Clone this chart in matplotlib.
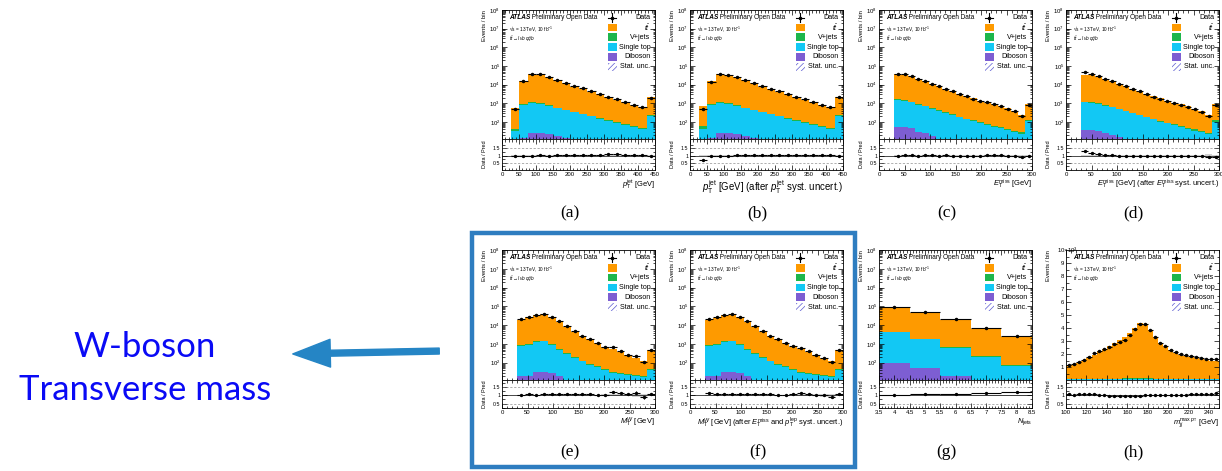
import matplotlib
matplotlib.use("Agg")
import matplotlib.pyplot as plt
import numpy as np
from matplotlib.patches import Rectangle, FancyArrowPatch
from matplotlib.ticker import (FixedLocator, LogFormatterSciNotation, NullFormatter,
                               MultipleLocator)

plt.rcParams["font.family"] = ["Liberation Sans", "DejaVu Sans"]
plt.rcParams["mathtext.fontset"] = "custom"
plt.rcParams["mathtext.rm"] = "Liberation Sans"
plt.rcParams["mathtext.it"] = "Liberation Sans:italic"
plt.rcParams["mathtext.bf"] = "Liberation Sans:bold"
plt.rcParams["hatch.linewidth"] = 0.5

C_TT, C_VJ, C_ST, C_DB = "#FE9A00", "#1DB64C", "#12C8F4", "#7D5ED2"

# ---- (a) / (b): jet pT ----
a_edges = np.arange(25, 451, 25)
a_ttbar = [500, 1.4e4, 3.5e4, 3.3e4, 2.4e4, 1.7e4, 1.1e4, 7.4e3, 5.6e3, 4.0e3, 2.8e3, 1.95e3, 1.4e3, 1.05e3, 750, 560, 1.9e3]
a_vjets = [10, 60, 70, 65, 55, 42, 33, 27, 21, 16, 13, 10, 8, 6, 5, 4, 20]
a_stop = [28, 800, 1000, 900, 700, 520, 400, 320, 250, 190, 145, 110, 85, 65, 50, 40, 200]
a_dib = [3, 14, 24, 24, 21, 17, 13, 10, 8, 6, 5, 4, 3, 3, 2, 2, 6]
a_ratio = [0.95, 1.0, 1.0, 1.02, 1.0, 1.02, 1.03, 1.05, 1.05, 1.07, 1.07, 1.09, 1.09, 1.07, 1.05, 1.05, 0.95]

b_ttbar = [620, 1.4e4, 3.5e4, 3.3e4, 2.4e4, 1.7e4, 1.1e4, 7.4e3, 5.6e3, 4.0e3, 2.8e3, 1.95e3, 1.4e3, 1.05e3, 750, 560, 1.9e3]
b_vjets = [15, 60, 70, 65, 55, 42, 33, 27, 21, 16, 13, 10, 8, 6, 5, 4, 20]
b_stop = [40, 800, 1000, 900, 700, 520, 400, 320, 250, 190, 145, 110, 85, 65, 50, 40, 200]
b_dib = [3, 14, 24, 24, 21, 17, 13, 10, 8, 6, 5, 4, 3, 3, 2, 2, 6]
b_ratio = [0.68, 0.98, 1.0, 1.0, 1.02, 1.02, 1.02, 1.03, 1.03, 1.05, 1.05, 1.07, 1.07, 1.05, 1.05, 1.05, 0.97]

# ---- (c) / (d): missing ET ----
c_edges = np.linspace(30, 300, 21)
c_ttbar = [3.5e4, 3.3e4, 2.6e4, 1.9e4, 1.4e4, 1.0e4, 7.5e3, 5.4e3, 4.0e3, 3.0e3, 2.2e3, 1.7e3, 1.3e3, 1.0e3, 800, 620, 480, 330, 210, 750]
c_vjets = [60, 55, 45, 38, 32, 27, 22, 18, 15, 13, 11, 10, 9, 8, 7, 6, 5, 5, 4, 20]
c_stop = [1500, 1300, 1050, 800, 650, 500, 390, 300, 230, 175, 135, 105, 82, 65, 52, 42, 34, 28, 22, 110]
c_dib = [50, 50, 48, 28, 25, 17, 12, 9, 7, 5, 4, 3, 3, 2, 2, 2, 1, 1, 1, 3]
c_ratio = [1.0, 1.02, 1.02, 1.0, 1.03, 1.02, 1.0, 1.02, 1.0, 1.0, 0.98, 0.95, 1.0, 1.05, 1.05, 1.02, 0.98, 1.0, 0.92, 0.95]

d_ttbar = [3.3e4, 3.2e4, 2.6e4, 1.9e4, 1.4e4, 1.0e4, 7.5e3, 5.4e3, 4.0e3, 3.0e3, 2.2e3, 1.7e3, 1.3e3, 1.0e3, 800, 620, 480, 330, 210, 750]
d_vjets = [50, 50, 42, 36, 30, 26, 22, 18, 15, 13, 11, 10, 9, 8, 7, 6, 5, 5, 4, 18]
d_stop = [1100, 1050, 900, 720, 600, 470, 370, 290, 225, 170, 130, 100, 80, 63, 50, 40, 33, 27, 21, 100]
d_dib = [35, 35, 32, 25, 20, 15, 11, 8, 6, 5, 4, 3, 3, 2, 2, 2, 1, 1, 1, 3]
d_ratio = [1.3, 1.15, 1.08, 1.05, 1.02, 1.0, 1.0, 0.98, 1.0, 0.98, 0.97, 0.95, 0.98, 0.98, 0.97, 0.98, 1.0, 0.97, 0.9, 0.88]

# ---- (e) / (f): W transverse mass ----
e_edges = np.arange(30, 301, 15)
e_ttbar = [1.9e4, 2.5e4, 3.4e4, 3.6e4, 2.5e4, 1.45e4, 8.1e3, 4.2e3, 2.5e3, 1.65e3, 1.05e3, 660, 510, 350, 220, 165, 100, 430]
e_vjets = [40, 45, 60, 65, 60, 40, 28, 18, 12, 9, 7, 5, 4, 3, 3, 3, 2, 6]
e_stop = [800, 900, 1300, 1350, 900, 470, 280, 165, 110, 72, 58, 38, 25, 22, 20, 18, 17, 40]
e_dib = [20, 20, 34, 34, 30, 20, 12, 8, 6, 5, 4, 3, 2, 2, 2, 2, 1, 3]
e_ratio = [1.03, 1.05, 1.03, 1.05, 1.05, 1.05, 1.05, 1.07, 1.05, 1.05, 1.02, 1.0, 1.2, 1.15, 1.05, 1.15, 0.88, 1.05]

f_ttbar = [1.8e4, 2.4e4, 3.3e4, 3.5e4, 2.5e4, 1.45e4, 8.1e3, 4.2e3, 2.5e3, 1.65e3, 1.05e3, 660, 510, 350, 220, 165, 100, 430]
f_vjets = [40, 45, 60, 65, 60, 40, 28, 18, 12, 9, 7, 5, 4, 3, 3, 3, 2, 6]
f_stop = [800, 900, 1300, 1350, 900, 470, 280, 165, 110, 72, 58, 38, 25, 22, 20, 18, 17, 40]
f_dib = [20, 20, 34, 34, 30, 20, 12, 8, 6, 5, 4, 3, 2, 2, 2, 2, 1, 3]
f_ratio = [1.12, 1.05, 1.05, 1.05, 1.05, 1.05, 1.05, 1.05, 1.05, 1.02, 1.0, 1.05, 1.12, 1.08, 1.02, 1.0, 0.92, 1.05]

# ---- (g): jet multiplicity ----
g_edges = [3.5, 4.5, 5.5, 6.5, 7.5, 8.5]
g_ttbar = [9e4, 4.4e4, 1.9e4, 6.3e3, 2.3e3]
g_vjets = [150, 80, 30, 12, 5]
g_stop = [4.1e3, 1.75e3, 610, 190, 60]
g_dib = [100, 50, 20, 12, 8]
g_ratio = [1.0, 1.05, 1.08, 1.12, 1.18]

# ---- (h): m_jj ----
h_edges = np.arange(100, 251, 5)
h_ttbar = [1000, 1100, 1250, 1350, 1600, 1850, 2100, 2300, 2500, 2750, 3000, 3200, 3500, 3900, 4250,
           4200, 3700, 3200, 2750, 2450, 2200, 2000, 1850, 1750, 1700, 1600, 1500, 1450, 1400, 1350]
h_vjets = [20, 20, 20, 22, 22, 22, 24, 24, 24, 24, 25, 25, 25, 25, 25,
           24, 24, 23, 22, 22, 21, 20, 20, 19, 19, 18, 18, 17, 17, 16]
h_stop = [60, 62, 65, 68, 70, 72, 75, 78, 80, 82, 85, 88, 90, 92, 95,
          92, 88, 84, 80, 76, 72, 70, 68, 66, 64, 62, 60, 58, 56, 55]
h_dib = [5, 5, 5, 5, 5, 5, 5, 5, 5, 5, 5, 5, 5, 5, 5,
         5, 5, 5, 5, 5, 5, 5, 5, 5, 5, 5, 5, 5, 5, 5]
h_ratio = [1.05, 1.03, 1.05, 1.05, 1.05, 1.05, 1.02, 1.0, 0.98, 0.98, 0.95, 0.93, 0.95, 0.97, 0.98,
           1.0, 1.0, 1.0, 1.0, 1.02, 1.02, 1.02, 1.03, 1.03, 1.05, 1.05, 1.05, 1.05, 1.07, 1.12]

W, H = 1222, 471
fig = plt.figure(figsize=(W / 100, H / 100), dpi=100)
fig.patch.set_facecolor("white")

COL_X = [502, 690, 879, 1066]
COL_W = 153
# main top, main bottom / ratio top, ratio bottom, caption y (pixels), ratio y-range
ROWS = [(10, 139, 170, 213, (0, 2.15)), (250, 380, 408, 452, (0.23, 1.92))]
LOG_MAJOR = [10.0 ** k for k in range(2, 9)]
LOG_MINOR = [m * 10.0 ** k for k in range(1, 8) for m in range(2, 10)]


def px_axes(x0, y0, x1, y1):
    return fig.add_axes([x0 / W, 1 - y1 / H, (x1 - x0) / W, (y1 - y0) / H])


def style(ax, ylsize=4.3):
    for s in ax.spines.values():
        s.set_linewidth(0.6)
    ax.tick_params(which="both", direction="in", top=True, right=True, labelsize=4.3,
                   width=0.5, pad=1.2)
    ax.tick_params(axis="y", labelsize=ylsize)
    ax.tick_params(which="major", length=3.5)
    ax.tick_params(which="minor", length=1.8)


def legend(ax):
    ys = [0.94 - 0.076 * i for i in range(6)]
    xm, tx = 0.72, 0.97
    ax.plot([xm - 0.028, xm + 0.028], [ys[0], ys[0]], color="k", lw=0.8, transform=ax.transAxes)
    ax.plot([xm, xm], [ys[0] - 0.035, ys[0] + 0.035], color="k", lw=0.8, transform=ax.transAxes)
    ax.plot([xm], [ys[0]], "o", color="k", ms=1.6, transform=ax.transAxes)
    for y, c in zip(ys[1:5], (C_TT, C_VJ, C_ST, C_DB)):
        ax.add_patch(Rectangle((xm - 0.03, y - 0.03), 0.06, 0.06, color=c, lw=0,
                               transform=ax.transAxes))
    ax.add_patch(Rectangle((xm - 0.03, ys[5] - 0.03), 0.06, 0.06, fill=False, hatch="//////",
                           ec="#5a5ad0", lw=0, transform=ax.transAxes))
    labels = ["Data", r"$t\bar{t}$", "V+jets", "Single top", "Diboson", "Stat. unc."]
    for y, lab in zip(ys, labels):
        ax.text(tx, y, lab, ha="right", va="center", fontsize=5.1, transform=ax.transAxes)
    t = ax.text(0.045, ys[0], "ATLAS", fontsize=4.7, fontweight="bold", fontstyle="italic",
                va="center", transform=ax.transAxes)
    ax.annotate(" Preliminary Open Data", xy=(1, 0.5), xycoords=t, va="center", fontsize=4.7)
    ax.text(0.045, 0.855, "\u221as = 13 TeV, 10 fb$^{-1}$", fontsize=3.4, va="center",
            transform=ax.transAxes)
    ax.text(0.045, 0.775, r"$t\bar{t}\rightarrow l\nu b\;q\bar{q}b$", fontsize=3.4, va="center",
            transform=ax.transAxes)


def panel(col, row, edges, ttbar, vjets, stop, dib, ratio, xlabel, xlim, xmaj, xmin,
          caption, linear=False, xfmt=None, xlsize=5.4):
    x0 = COL_X[col]
    x1 = x0 + COL_W
    top, mid, bot, capy, rlim = ROWS[row]
    ax = px_axes(x0, top, x1, mid)
    rax = px_axes(x0, mid, x1, bot)
    edges = np.asarray(edges, float)
    s1 = np.asarray(dib, float)
    s2 = s1 + np.asarray(stop, float)
    s3 = s2 + np.asarray(vjets, float)
    s4 = s3 + np.asarray(ttbar, float)
    base = 0 if linear else 1
    for vals, c in ((s4, C_TT), (s3, C_VJ), (s2, C_ST), (s1, C_DB)):
        ax.stairs(vals, edges, baseline=base, fill=True, color=c, lw=0)
    centres = 0.5 * (edges[1:] + edges[:-1])
    half = 0.5 * np.diff(edges)
    r = np.asarray(ratio, float)
    data = s4 * r
    ax.errorbar(centres, data, yerr=np.sqrt(data), xerr=half, fmt="o", ms=1.5, color="k",
                lw=0.8, capsize=0)
    ax.set_xlim(*xlim)
    if linear:
        ax.set_ylim(0, 10000)
        ax.set_yticks(np.arange(1000, 9001, 1000))
        ax.set_yticklabels([str(i) for i in range(1, 10)])
        ax.yaxis.set_minor_locator(FixedLocator(np.arange(500, 10000, 1000)))
        ax.text(0.01, 1.0, r"10$\times$10$^{3}$", fontsize=4.3, ha="center", va="center",
                transform=ax.transAxes)
    else:
        ax.set_yscale("log")
        ax.set_ylim(12, 1e8)
        ax.yaxis.set_major_locator(FixedLocator(LOG_MAJOR))
        ax.yaxis.set_major_formatter(LogFormatterSciNotation())
        ax.yaxis.set_minor_locator(FixedLocator([v for v in LOG_MINOR if v >= 12]))
        ax.yaxis.set_minor_formatter(NullFormatter())
    ax.xaxis.set_major_locator(MultipleLocator(xmaj))
    ax.xaxis.set_minor_locator(MultipleLocator(xmin))
    ax.tick_params(labelbottom=False)
    style(ax)
    ax.set_ylabel("Events / bin", fontsize=4.2, loc="top")
    ax.yaxis.set_label_coords(-0.1, 1.0)
    legend(ax)

    # ratio panel
    unc = np.sqrt(s4) / s4 + 0.01
    rax.stairs(1 + unc, edges, baseline=1 - unc, fill=True, color="0.82", lw=0)
    rax.axhline(1, color="k", lw=0.5)
    for v in (0.5, 1.5):
        rax.axhline(v, color="0.45", lw=0.4, ls=(0, (4, 3)))
    rax.errorbar(centres, r, yerr=np.sqrt(data) / s4, xerr=half, fmt="o", ms=1.4, color="k",
                 lw=0.8, capsize=0)
    rax.set_xlim(*xlim)
    rax.set_ylim(*rlim)
    rax.set_yticks([0.5, 1, 1.5])
    rax.set_yticklabels(["0.5", "1", "1.5"])
    rax.yaxis.set_minor_locator(FixedLocator([0.25, 0.75, 1.25, 1.75]))
    rax.xaxis.set_major_locator(MultipleLocator(xmaj))
    rax.xaxis.set_minor_locator(MultipleLocator(xmin))
    if xfmt is not None:
        rax.xaxis.set_major_formatter(xfmt)
    style(rax, ylsize=3.8)
    rax.set_ylabel("Data / Pred", fontsize=4.0)
    rax.yaxis.set_label_coords(-0.1, 0.5)
    rax.set_xlabel(xlabel, fontsize=xlsize, loc="right", labelpad=1)
    fig.text((0.5 * (x0 + x1) - 9) / W, 1 - capy / H, caption, family="Liberation Serif",
             fontsize=12.5, ha="center", va="center")


jet = r"$p_{\mathrm{T}}^{\mathrm{jet}}$"
met = r"$E_{\mathrm{T}}^{\mathrm{miss}}$"
mtw = r"$M_{\mathrm{T}}^{W}$"
half_fmt = matplotlib.ticker.FuncFormatter(lambda v, p: f"{v:g}")

panel(0, 0, a_edges, a_ttbar, a_vjets, a_stop, a_dib, a_ratio, jet + " [GeV]",
      (0, 450), 50, 10, "(a)")
panel(1, 0, a_edges, b_ttbar, b_vjets, b_stop, b_dib, b_ratio,
      jet + " [GeV] (after " + jet + " syst. uncert.)", (0, 450), 50, 10, "(b)", xlsize=6.9)
panel(2, 0, c_edges, c_ttbar, c_vjets, c_stop, c_dib, c_ratio, met + " [GeV]",
      (0, 300), 50, 10, "(c)")
panel(3, 0, c_edges, d_ttbar, d_vjets, d_stop, d_dib, d_ratio,
      met + " [GeV] (after " + met + " syst. uncert.)", (0, 300), 50, 10, "(d)")
panel(0, 1, e_edges, e_ttbar, e_vjets, e_stop, e_dib, e_ratio, mtw + " [GeV]",
      (0, 300), 50, 10, "(e)")
panel(1, 1, e_edges, f_ttbar, f_vjets, f_stop, f_dib, f_ratio,
      mtw + " [GeV] (after " + met + r" and $p_{\mathrm{T}}^{\mathrm{lep}}$ syst. uncert.)",
      (0, 300), 50, 10, "(f)")
panel(2, 1, g_edges, g_ttbar, g_vjets, g_stop, g_dib, g_ratio, r"$N_{\mathrm{jets}}$",
      (3.5, 8.5), 0.5, 0.1, "(g)", xfmt=half_fmt)
panel(3, 1, h_edges, h_ttbar, h_vjets, h_stop, h_dib, h_ratio,
      r"$m_{jj}^{\mathrm{max}\ p_{\mathrm{T}}}$ [GeV]", (100, 250), 20, 5, "(h)", linear=True)

# highlight box round (e) and (f)
fig.add_artist(Rectangle((472 / W, 1 - 467 / H), (855 - 472) / W, (467 - 233) / H,
                         transform=fig.transFigure, fill=False, ec="#2E7DC0", lw=3.2))

arrow = FancyArrowPatch((442 / 100, (H - 351) / 100), (290 / 100, (H - 354) / 100),
                        transform=fig.dpi_scale_trans, color="#2585C5",
                        arrowstyle="simple,head_length=2.7,head_width=2.0,tail_width=0.43",
                        mutation_scale=10)
fig.add_artist(arrow)

fig.text(145 / W, 1 - 357 / H, "W-boson", color="#0A0AF5", fontsize=25, family="Lato",
         ha="center", va="baseline")
fig.text(145 / W, 1 - 400 / H, "Transverse mass", color="#0A0AF5", fontsize=25, family="Lato",
         ha="center", va="baseline")

fig.savefig("out.png", dpi=100)
